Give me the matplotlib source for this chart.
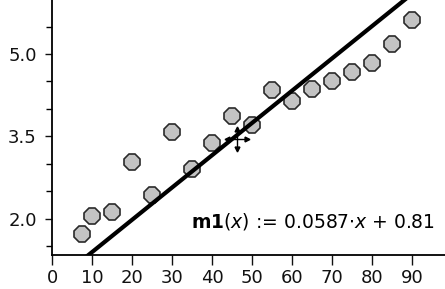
import numpy as np
import matplotlib.pyplot as plt
from matplotlib.ticker import MultipleLocator, FixedLocator

# данные
x_vals = [7.5, 10, 15, 20, 25, 30, 35, 40, 45, 50, 55, 60, 65, 70, 75, 80, 85, 90]
y_vals = [1.73, 2.05, 2.13, 3.04, 2.44, 3.58, 2.90, 3.38, 3.87, 3.71,
          4.35, 4.15, 4.36, 4.51, 4.67, 4.84, 5.18, 5.62]
slope = 0.0587
intercept = 0.81
x_ticks = [0, 10, 20, 30, 40, 50, 60, 70, 80, 90]
y_ticks = [2.0, 3.5, 5.0]
y_labels = ['2.0', '3.5', '5.0']
cursor_xy = (46.25, 3.455)

fig = plt.figure(figsize=(4.45, 2.89), dpi=100)
ax = fig.add_axes([52 / 445, 34 / 289, 393 / 445, 255 / 289])
ax.set_xlim(0, 98.25)
ax.set_ylim(1.345, 5.982)

# точки
ax.plot(x_vals, y_vals, linestyle='none', marker='8', markersize=12.5,
        markerfacecolor='#c3c3c3', markeredgecolor='#2a2a2a',
        markeredgewidth=1.2, zorder=2)

# линия регрессии
xl = np.array([0, 98.25])
ax.plot(xl, slope * xl + intercept, color='black', linewidth=3, zorder=3)

# курсор-перемещение (крестик со стрелками)
cx, cy = cursor_xy
dx, dy = 2.4, 0.19
ax.plot([cx - dx, cx + dx], [cy, cy], color='black', lw=1, zorder=4)
ax.plot([cx, cx], [cy - dy, cy + dy], color='black', lw=1, zorder=4)
for mk, px, py in [('<', cx - dx, cy), ('>', cx + dx, cy),
                   ('^', cx, cy + dy), ('v', cx, cy - dy)]:
    ax.plot(px, py, marker=mk, color='black', markersize=3.5, zorder=4)

ax.text(0.975, 0.133,
        r'$\mathbf{m1}\left(\mathit{x}\right)$ := 0.0587$\cdot\mathit{x}$ + 0.81',
        transform=ax.transAxes, ha='right', va='center', fontsize=13.5)

ax.spines['top'].set_visible(False)
ax.spines['right'].set_visible(False)
ax.spines['left'].set_linewidth(1.3)
ax.spines['bottom'].set_linewidth(1.3)

ax.xaxis.set_major_locator(FixedLocator(x_ticks))
ax.set_xticklabels([str(t) for t in x_ticks])
ax.yaxis.set_major_locator(FixedLocator(y_ticks))
ax.set_yticklabels(y_labels)
ax.yaxis.set_minor_locator(MultipleLocator(0.5))

ax.tick_params(axis='x', direction='out', length=7, width=1, pad=3,
               labelsize=13, colors='#111111')
ax.tick_params(axis='y', which='major', direction='out', length=5, width=1,
               pad=6, labelsize=13, colors='#111111')
ax.tick_params(axis='y', which='minor', direction='out', length=4, width=1)

fig.savefig('out.png', dpi=100)
